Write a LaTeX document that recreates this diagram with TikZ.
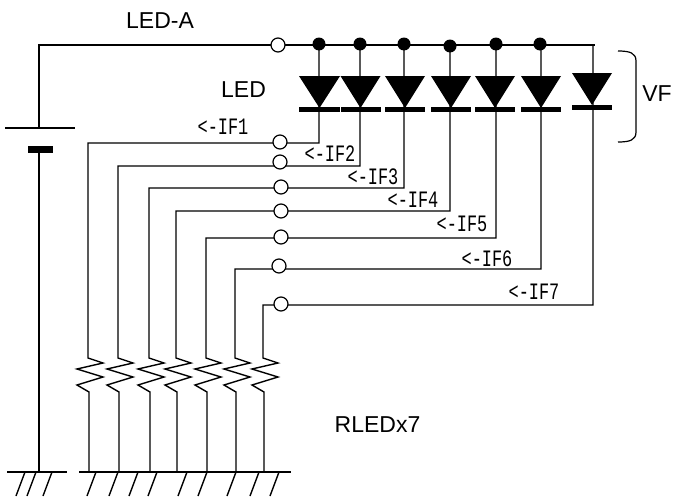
\documentclass[tikz,border=0pt]{standalone}
\usepackage{fontspec}
\setmainfont{Liberation Sans}
\newfontfamily\ifmono[FakeStretch=0.72]{Liberation Mono}
\usepackage{tikz}
\usetikzlibrary{positioning,calc}

\tikzset{
    wire/.style={line width=1.4pt},
    term/.style={circle, draw, fill=white, line width=1.2pt, minimum size=14pt, inner sep=0pt},
    junction/.style={circle, fill=black, minimum size=13pt, inner sep=0pt},
    iflabel/.style={font=\ifmono\fontsize{23.5}{24}\selectfont, inner sep=0pt},
    mainlabel/.style={font=\fontsize{23}{24}\selectfont, inner sep=0pt}
}

\begin{document}
\begin{tikzpicture}[x=1pt,y=-1pt]
    \useasboundingbox (0,0) rectangle (673,498);

    % Supply rail and battery
    \coordinate (battTop) at (39,128);
    \coordinate (battBot) at (39,150);
    \coordinate (gndL) at (39,472);
    \coordinate (railEnd) at (595,45);
    \draw[wire] (battTop) |- (railEnd);
    \draw[line width=1.2pt] (5,128) -- (75,128);
    \fill (28,145.5) rectangle (53,153);
    \draw[wire] (battBot) -- (gndL);
    \node[term] (termA) at (278,45) {};

    % LED strings: anode x, dot y, wire y, terminal x/y, rail x
    \foreach \i/\ax/\dy/\wy/\tx/\ty/\rx in {
        1/319/44/143/280/142/88,
        2/360/44/166/280/162/118,
        3/404/44/188/281/187/149,
        4/450/46/211/281/211/176,
        5/496/44/238/281/237/206,
        6/541/44/269/279/266/235,
        7/593/45/305/281/304/263} {
        \coordinate (anode\i) at (\ax,\dy);
        \coordinate (cath\i) at (\ax,\wy);
        \coordinate (rail\i) at (\rx,\wy);
        \coordinate (resTop\i) at (\rx,358);
        \coordinate (resBot\i) at (\rx+1,392);
        \coordinate (gnd\i) at (\rx+1,472);

        % wire from the rail through the LED, out to the resistor
        \draw[wire] (anode\i) -- (cath\i) -- (rail\i) -- (resTop\i)
            -- ++(15,5) -- ++(-26,6) -- ++(26,8) -- ++(-26,8) -- (resBot\i) -- (gnd\i);
        \node[term] (term\i) at (\tx,\ty) {};
    }

    % LED symbols
    \foreach \cx/\top/\bar/\tw in {
        319.5/76/109/20.5, 360.5/76/109/20, 405/76/109/20, 451/76/109/20,
        495/76/109/20, 541/76/109/20, 592/73/107.5/20} {
        \fill (\cx-\tw,\top) -- (\cx+\tw,\top) -- (\cx,\top+32) -- cycle;
        \fill (\cx-\tw,\bar-2.5) rectangle (\cx+\tw,\bar+2.5);
    }

    % Junction dots
    \foreach \i/\ax/\dy in {1/319/44, 2/360/44, 3/404/44, 4/450/46, 5/496/44, 6/540/44}
        \node[junction] (dot\i) at (\ax,\dy) {};

    % Ground bars
    \draw[wire] (7,472) -- (67,472);
    \draw[wire] (79,472) -- (291,472);
    \foreach \x in {25,36,52,96,118,138,157,187,207,236,259,279}
        \draw[wire] (\x,472) -- ++(-9,24);

    % VF bracket
    \draw[line width=1.2pt] (618,51) .. controls (630,51) and (636,53) .. (636,61)
        -- (636,132) .. controls (636,140) and (630,142) .. (618,142);

    % Labels
    \node[mainlabel] (ledA) at (160,21) {LED-A};
    \node[mainlabel] (led) at (243.5,90) {LED};
    \node[mainlabel] (vf) at (657,94) {VF};
    \node[mainlabel] (rled) at (377.5,425) {RLEDx7};

    \foreach \i/\x/\y in {1/223/127, 2/330/154, 3/373/177, 4/413/200, 5/462/224, 6/487/259, 7/534/292}
        \node[iflabel] (if\i) at (\x,\y) {<-IF\i};

\end{tikzpicture}
\end{document}
